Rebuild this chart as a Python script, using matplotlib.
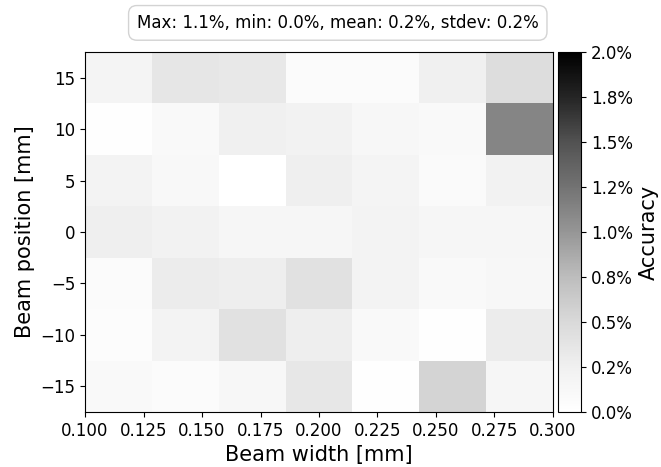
import numpy as np
import matplotlib
matplotlib.use("Agg")
import matplotlib.pyplot as plt
from matplotlib.ticker import FormatStrFormatter

# Scan grid: 7 beam widths between 0.1 and 0.3 mm, 7 beam positions
width_edges = np.linspace(0.1, 0.3, 8)
position_edges = [-17.5, -12.5, -7.5, -2.5, 2.5, 7.5, 12.5, 17.5]
width_ticks = [0.100, 0.125, 0.150, 0.175, 0.200, 0.225, 0.250, 0.275, 0.300]
position_ticks = [-15, -10, -5, 0, 5, 10, 15]

# Accuracy [%] per cell, rows from -15 mm up to +15 mm
accuracy = np.array([
    [0.10, 0.07, 0.13, 0.35, 0.02, 0.55, 0.15],
    [0.05, 0.20, 0.41, 0.28, 0.10, 0.03, 0.30],
    [0.07, 0.29, 0.28, 0.42, 0.20, 0.10, 0.13],
    [0.26, 0.22, 0.15, 0.15, 0.20, 0.15, 0.15],
    [0.20, 0.12, 0.00, 0.26, 0.18, 0.08, 0.22],
    [0.03, 0.10, 0.25, 0.22, 0.13, 0.10, 1.12],
    [0.18, 0.36, 0.34, 0.07, 0.07, 0.25, 0.46],
])

fig = plt.figure(figsize=(6.61, 4.67), dpi=100)
ax = fig.add_axes([0.1286, 0.1178, 0.708, 0.771])
cax = fig.add_axes([0.8442, 0.1178, 0.0348, 0.771])

mesh = ax.pcolormesh(width_edges, position_edges, accuracy,
                     cmap="Greys", vmin=0, vmax=2)
ax.set_xlim(0.1, 0.3)
ax.set_ylim(-17.5, 17.5)
ax.set_xticks(width_ticks)
ax.xaxis.set_major_formatter(FormatStrFormatter("%.3f"))
ax.set_yticks(position_ticks)
ax.tick_params(labelsize=12)
ax.set_xlabel("Beam width [mm]", fontsize=15)
ax.set_ylabel("Beam position [mm]", fontsize=15)

cb = fig.colorbar(mesh, cax=cax)
cb.set_ticks(np.arange(0, 2.01, 0.25))
cb.ax.yaxis.set_major_formatter(FormatStrFormatter("%.1f%%"))
cb.ax.tick_params(labelsize=12)
cb.set_label("Accuracy", fontsize=15)

stats = "Max: %.1f%%, min: %.1f%%, mean: %.1f%%, stdev: %.1f%%" % (
    accuracy.max(), accuracy.min(), accuracy.mean(), accuracy.std())
fig.text(0.511, 0.951, stats, ha="center", va="center", fontsize=12,
         bbox=dict(boxstyle="round,pad=0.5", facecolor="white",
                   edgecolor="lightgray"))

fig.savefig("out.png", dpi=100)
